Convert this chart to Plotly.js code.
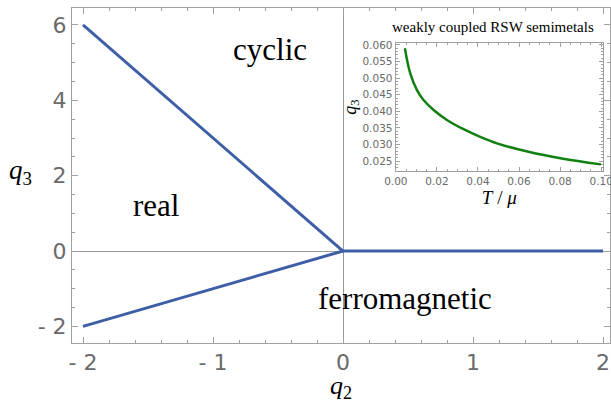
<!DOCTYPE html>
<html>
<head>
<meta charset="utf-8">
<script src="https://cdn.plot.ly/plotly-3.0.1.min.js"></script>
<style>html,body{margin:0;padding:0;background:#fff;}#chart{width:611px;height:403px;}</style>
</head>
<body>
<div id="chart"></div>
<script>
// Phase boundaries (main panel)
const cyclicRealQ2 = [-2, 0];
const cyclicRealQ3 = [6, 0];
const realFerroQ2 = [-2, 0];
const realFerroQ3 = [-2, 0];
const cyclicFerroQ2 = [0, 2];
const cyclicFerroQ3 = [0, 0];

// Inset: weakly coupled RSW semimetals, q3 vs T/mu
const insetT = [0.0044, 0.0070, 0.0103, 0.0135, 0.0184, 0.0249, 0.0330, 0.0411, 0.0500, 0.0646, 0.0808, 0.0999];
const insetQ3 = [0.0590, 0.0515, 0.0464, 0.0434, 0.0404, 0.0374, 0.0346, 0.0323, 0.0302, 0.0278, 0.0258, 0.0240];

// Tick labels
const mainXTicks = [-2, -1, 0, 1, 2];
const mainXTickText = ['- 2', '- 1', '0', '1', '2'];
const mainYTicks = [-2, 0, 2, 4, 6];
const mainYTickText = ['- 2', '0', '2', '4', '6'];
const insetXTicks = [0, 0.02, 0.04, 0.06, 0.08, 0.1];
const insetXTickText = ['0.00', '0.02', '0.04', '0.06', '0.08', '0.10'];
const insetYTicks = [0.025, 0.030, 0.035, 0.040, 0.045, 0.050, 0.055, 0.060];
const insetYTickText = ['0.025', '0.030', '0.035', '0.040', '0.045', '0.050', '0.055', '0.060'];

const blue = '#3f5ea8';
const serif = 'Liberation Serif, Times New Roman, serif';
const tickGray = '#6a6a6a';
const frameGray = '#a0a0a0';

const traces = [
  {x: cyclicRealQ2, y: cyclicRealQ3, mode: 'lines', line: {color: blue, width: 3}, hoverinfo: 'skip'},
  {x: realFerroQ2, y: realFerroQ3, mode: 'lines', line: {color: blue, width: 3}, hoverinfo: 'skip'},
  {x: cyclicFerroQ2, y: cyclicFerroQ3, mode: 'lines', line: {color: blue, width: 3}, hoverinfo: 'skip'},
  {x: insetT, y: insetQ3, xaxis: 'x2', yaxis: 'y2', mode: 'lines',
   line: {color: '#118011', width: 2.5, shape: 'spline'}, hoverinfo: 'skip'}
];

const layout = {
  width: 611, height: 403,
  margin: {l: 72, r: 1, t: 8, b: 60},
  paper_bgcolor: '#fff', plot_bgcolor: '#fff',
  showlegend: false,
  xaxis: {
    domain: [0, 1], range: [-2.0846, 2.0538],
    tickvals: mainXTicks, ticktext: mainXTickText,
    ticks: 'inside', ticklen: 6, tickcolor: frameGray, tickwidth: 1,
    minor: {dtick: 0.2, ticks: 'inside', ticklen: 3, tickcolor: frameGray},
    showline: true, linecolor: frameGray, linewidth: 1, mirror: 'allticks',
    showgrid: false, zeroline: true, zerolinecolor: '#999999', zerolinewidth: 1,
    tickfont: {family: 'DejaVu Sans', size: 22, color: tickGray},
    title: {text: '<i>q</i><sub>2</sub>', font: {family: serif, size: 26, color: '#000'}, standoff: 4}
  },
  yaxis: {
    domain: [0, 1], range: [-2.442, 6.451],
    tickvals: mainYTicks, ticktext: mainYTickText,
    ticks: 'inside', ticklen: 6, tickcolor: frameGray, tickwidth: 1,
    minor: {dtick: 0.5, ticks: 'inside', ticklen: 3, tickcolor: frameGray},
    showline: true, linecolor: frameGray, linewidth: 1, mirror: 'allticks',
    showgrid: false, zeroline: true, zerolinecolor: '#999999', zerolinewidth: 1,
    tickfont: {family: 'DejaVu Sans', size: 22, color: tickGray}
  },
  xaxis2: {
    domain: [0.6015, 0.987], anchor: 'y2', range: [-0.0001, 0.1009],
    tickvals: insetXTicks, ticktext: insetXTickText,
    ticks: 'inside', ticklen: 4, tickcolor: frameGray,
    minor: {dtick: 0.005, tick0: 0, ticks: 'inside', ticklen: 2, tickcolor: frameGray},
    showline: true, linecolor: frameGray, linewidth: 1, mirror: 'allticks',
    showgrid: false, zeroline: false, ticklabeloverflow: 'allow',
    tickfont: {family: 'DejaVu Sans', size: 10.5, color: tickGray},
    title: {text: '<i>T</i> / <i>μ</i>', font: {family: serif, size: 19, color: '#000'}, standoff: 0}
  },
  yaxis2: {
    domain: [0.5134, 0.8955], anchor: 'x2', range: [0.0220, 0.0606],
    tickvals: insetYTicks, ticktext: insetYTickText,
    ticks: 'inside', ticklen: 4, tickcolor: frameGray,
    minor: {dtick: 0.001, tick0: 0, ticks: 'inside', ticklen: 2, tickcolor: frameGray},
    showline: true, linecolor: frameGray, linewidth: 1, mirror: 'allticks',
    showgrid: false, zeroline: false,
    tickfont: {family: 'DejaVu Sans', size: 10.5, color: tickGray},
    title: {text: '<i>q</i><sub>3</sub>', font: {family: serif, size: 18, color: '#000'}, standoff: 0}
  },
  annotations: [
    {xref: 'paper', yref: 'paper', x: -0.095, y: 0.51, xanchor: 'center', yanchor: 'middle', showarrow: false,
     text: '<i>q</i><sub>3</sub>', font: {family: serif, size: 27, color: '#000'}},
    {xref: 'x', yref: 'y', x: -0.56, y: 5.35, showarrow: false, text: 'cyclic',
     font: {family: serif, size: 31, color: '#000'}},
    {xref: 'x', yref: 'y', x: -1.44, y: 1.2, showarrow: false, text: 'real',
     font: {family: serif, size: 31, color: '#000'}},
    {xref: 'x', yref: 'y', x: 0.48, y: -1.25, showarrow: false, text: 'ferromagnetic',
     font: {family: serif, size: 31, color: '#000'}},
    {xref: 'paper', yref: 'paper', x: 0.7825, y: 0.943, xanchor: 'center', yanchor: 'middle', showarrow: false,
     text: 'weakly coupled RSW semimetals', font: {family: serif, size: 15, color: '#000'}}
  ]
};

Plotly.newPlot('chart', traces, layout, {staticPlot: true, displayModeBar: false});
</script>
</body>
</html>
